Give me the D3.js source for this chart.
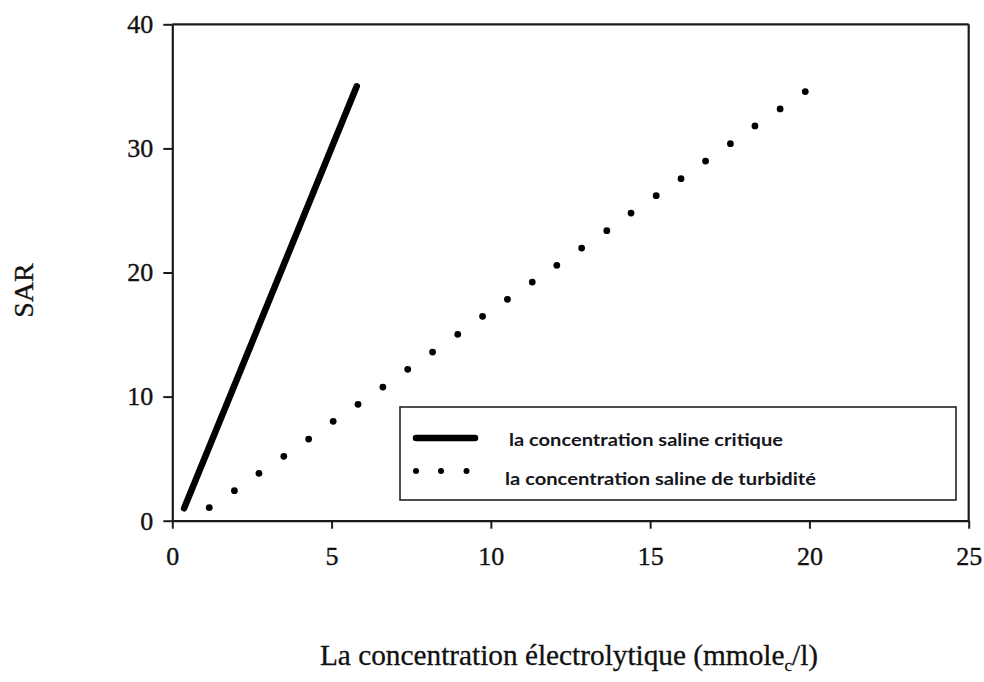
<!DOCTYPE html>
<html>
<head>
<meta charset="utf-8">
<script src="https://cdn.jsdelivr.net/npm/d3@7"></script>
<style>
  html, body { margin: 0; padding: 0; background: #fff; }
  svg { display: block; }
</style>
</head>
<body>
<svg id="chart" width="984" height="682"></svg>
<script>
// Critical salt concentration: straight line (electrolyte conc., SAR)
const criticalX = [0.37, 5.79];
const criticalY = [1.0, 35.0];

// Turbidity salt concentration: dotted series
const turbidityX = [1.16, 1.95, 2.72, 3.50, 4.28, 5.05, 5.83, 6.61, 7.39, 8.17,
                    8.96, 9.74, 10.52, 11.30, 12.07, 12.85, 13.64, 14.40, 15.19,
                    15.97, 16.74, 17.52, 18.29, 19.08, 19.87];
const turbidityY = [1.05, 2.42, 3.82, 5.19, 6.58, 8.01, 9.38, 10.77, 12.20, 13.59,
                    15.02, 16.47, 17.84, 19.23, 20.58, 21.97, 23.37, 24.79, 26.19,
                    27.56, 28.98, 30.38, 31.81, 33.18, 34.58];

const xTicks = [0, 5, 10, 15, 20, 25];
const yTicks = [0, 10, 20, 30, 40];

const legendLabels = ["la concentration saline critique", "la concentration saline de turbidité"];

const svg = d3.select("#chart");
const ink = "#1a1a1a";
const serif = "'Liberation Serif', 'Times New Roman', serif";

const x = d3.scaleLinear().domain([0, 25]).range([172.3, 968.7]);
const y = d3.scaleLinear().domain([0, 40]).range([520.7, 24.3]);

// Axes
const xAxis = svg.append("g")
  .attr("transform", `translate(0,${y(0)})`)
  .call(d3.axisBottom(x).tickValues(xTicks).tickSize(8).tickSizeOuter(0).tickPadding(18).tickFormat(d3.format("d")));
const yAxis = svg.append("g")
  .attr("transform", `translate(${x(0)},0)`)
  .call(d3.axisLeft(y).tickValues(yTicks).tickSize(9).tickSizeOuter(0).tickPadding(10).tickFormat(d3.format("d")));

[xAxis, yAxis].forEach(g => {
  g.select(".domain").attr("stroke", ink).attr("stroke-width", 2.2);
  g.selectAll(".tick line").attr("stroke", ink).attr("stroke-width", 2);
  g.selectAll(".tick text")
    .attr("fill", "#111")
    .attr("stroke", "#111").attr("stroke-width", 0.35)
    .style("font-family", serif)
    .style("font-size", "26px");
});

// Frame: top and right borders
svg.append("line")
  .attr("x1", x(0)).attr("x2", x(25)).attr("y1", y(40)).attr("y2", y(40))
  .attr("stroke", ink).attr("stroke-width", 2.2);
svg.append("line")
  .attr("x1", x(25)).attr("x2", x(25)).attr("y1", y(40)).attr("y2", y(0))
  .attr("stroke", ink).attr("stroke-width", 2.2);

// Critical concentration line
const critData = criticalX.map((v, i) => [v, criticalY[i]]);
svg.append("path")
  .datum(critData)
  .attr("d", d3.line().x(d => x(d[0])).y(d => y(d[1])))
  .attr("fill", "none")
  .attr("stroke", "#000")
  .attr("stroke-width", 6.5)
  .attr("stroke-linecap", "round");

// Turbidity concentration dots
const turbData = turbidityX.map((v, i) => [v, turbidityY[i]]);
svg.append("g").selectAll("circle")
  .data(turbData)
  .join("circle")
  .attr("cx", d => x(d[0]))
  .attr("cy", d => y(d[1]))
  .attr("r", 3.4)
  .attr("fill", "#000");

// Legend
const legend = svg.append("g");
legend.append("rect")
  .attr("x", 400).attr("y", 407).attr("width", 556).attr("height", 93)
  .attr("fill", "#fff").attr("stroke", "#222").attr("stroke-width", 1.6);
legend.append("line")
  .attr("x1", 416).attr("x2", 475).attr("y1", 438).attr("y2", 438)
  .attr("stroke", "#000").attr("stroke-width", 6.5).attr("stroke-linecap", "round");
[416, 441, 466.5].forEach(cx => {
  legend.append("circle").attr("cx", cx).attr("cy", 471).attr("r", 3).attr("fill", "#000");
});
legend.append("text")
  .attr("x", 509).attr("y", 445.5)
  .attr("textLength", 274).attr("lengthAdjust", "spacingAndGlyphs")
  .style("font-family", "Lato, 'Open Sans', sans-serif")
  .style("font-weight", "700").style("font-size", "17.5px")
  .attr("fill", "#15151c")
  .text(legendLabels[0]);
legend.append("text")
  .attr("x", 505).attr("y", 485)
  .attr("textLength", 311).attr("lengthAdjust", "spacingAndGlyphs")
  .style("font-family", "Lato, 'Open Sans', sans-serif")
  .style("font-weight", "700").style("font-size", "17.5px")
  .attr("fill", "#15151c")
  .text(legendLabels[1]);

// Axis titles
svg.append("text")
  .attr("transform", "translate(33,290.5) rotate(-90)")
  .attr("text-anchor", "middle")
  .attr("stroke", "#111").attr("stroke-width", 0.3)
  .style("font-family", serif).style("font-size", "28px")
  .attr("fill", "#111")
  .text("SAR");

const xTitle = svg.append("text")
  .attr("x", 569).attr("y", 665)
  .attr("text-anchor", "middle")
  .attr("stroke", "#111").attr("stroke-width", 0.3)
  .style("font-family", serif).style("font-size", "29.3px")
  .attr("fill", "#111");
xTitle.append("tspan").text("La concentration électrolytique (mmole");
xTitle.append("tspan").attr("dy", 6).style("font-size", "17px").text("c");
xTitle.append("tspan").attr("dy", -6).text("/l)");
</script>
</body>
</html>
